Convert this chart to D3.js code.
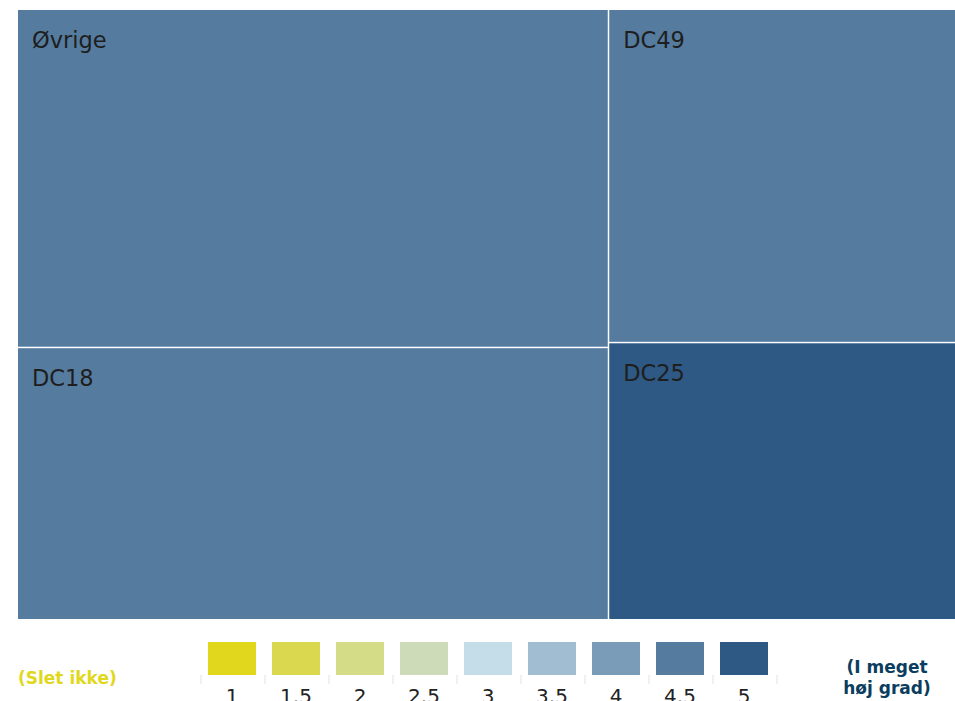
<!DOCTYPE html>
<html>
<head>
<meta charset="utf-8">
<script src="https://cdn.jsdelivr.net/npm/d3@7"></script>
<style>
  html, body { margin: 0; padding: 0; background: #fff; }
  svg { display: block; }
  text { font-family: "DejaVu Sans", Verdana, sans-serif; }
</style>
</head>
<body>
<svg id="chart" width="955" height="701"></svg>
<script>
// ---- data ----
const groups = ["venstre", "højre"];
const tiles = ["Øvrige", "DC18", "DC49", "DC25"];
const tileGroup = ["venstre", "venstre", "højre", "højre"];
const tileValues = [34.9, 28.1, 20.2, 16.8];
const tileScores = [4.5, 4.5, 4.5, 5];

const legendScores = [1, 1.5, 2, 2.5, 3, 3.5, 4, 4.5, 5];
const legendLabels = ["1", "1.5", "2", "2.5", "3", "3.5", "4", "4.5", "5"];
const legendColors = ["#e1d81e", "#d9d84f", "#d4dc87", "#cddbb8", "#c4dde9",
                      "#a1bdd2", "#7a9cb8", "#557b9f", "#2e5984"];
const lowLabel = "(Slet ikke)";
const highLabel = ["(I meget", "høj grad)"];

// ---- scales ----
const color = d3.scaleOrdinal().domain(legendScores).range(legendColors);

const svg = d3.select("#chart");

// ---- treemap ----
const rootData = {
  name: "root",
  children: groups.map(g => ({
    name: g,
    children: tiles.map((t, i) => ({ name: t, value: tileValues[i], score: tileScores[i], group: tileGroup[i] }))
                   .filter(d => d.group === g)
  }))
};

const root = d3.hierarchy(rootData).sum(d => d.value || 0);

d3.treemap()
  .tile(d3.treemapSliceDice)
  .size([937, 609])
  .paddingInner(1.5)
  .round(false)(root);

const tm = svg.append("g").attr("transform", "translate(18,10)");

const leaf = tm.selectAll("g.leaf")
  .data(root.leaves())
  .join("g")
  .attr("class", "leaf")
  .attr("transform", d => `translate(${d.x0},${d.y0})`);

leaf.append("rect")
  .attr("width", d => d.x1 - d.x0)
  .attr("height", d => d.y1 - d.y0)
  .attr("fill", d => color(d.data.score));

leaf.append("text")
  .attr("x", 14)
  .attr("y", 38)
  .attr("font-size", 22.5)
  .attr("fill", "#1e1e1e")
  .text(d => d.data.name);

// ---- legend ----
const band = d3.scaleBand().domain(legendLabels).range([201, 777]);

const lg = svg.append("g");

lg.selectAll("rect.sw")
  .data(legendLabels)
  .join("rect")
  .attr("class", "sw")
  .attr("x", d => band(d) + 7)
  .attr("y", 642)
  .attr("width", band.bandwidth() - 16)
  .attr("height", 33)
  .attr("fill", (d, i) => legendColors[i]);

// tick separators at band boundaries
const bounds = legendLabels.map(d => band(d)).concat([band.range()[1]]);
lg.selectAll("line.tk")
  .data(bounds)
  .join("line")
  .attr("class", "tk")
  .attr("x1", d => d).attr("x2", d => d)
  .attr("y1", 675).attr("y2", 684)
  .attr("stroke", "#ebebeb")
  .attr("stroke-width", 1.5);

lg.selectAll("text.lb")
  .data(legendLabels)
  .join("text")
  .attr("class", "lb")
  .attr("x", d => band(d) + band.bandwidth() / 2 - 1)
  .attr("y", 703)
  .attr("text-anchor", "middle")
  .attr("font-size", 20)
  .attr("fill", "#222")
  .text(d => d);

lg.append("text")
  .attr("x", 18)
  .attr("y", 684)
  .attr("font-size", 17)
  .attr("font-weight", "bold")
  .attr("fill", "#e1d81e")
  .text(lowLabel);

lg.selectAll("text.hi")
  .data(highLabel)
  .join("text")
  .attr("class", "hi")
  .attr("x", 887)
  .attr("y", (d, i) => 673 + i * 21)
  .attr("text-anchor", "middle")
  .attr("font-size", 17)
  .attr("font-weight", "bold")
  .attr("fill", "#0b3d5e")
  .text(d => d);
</script>
</body>
</html>
